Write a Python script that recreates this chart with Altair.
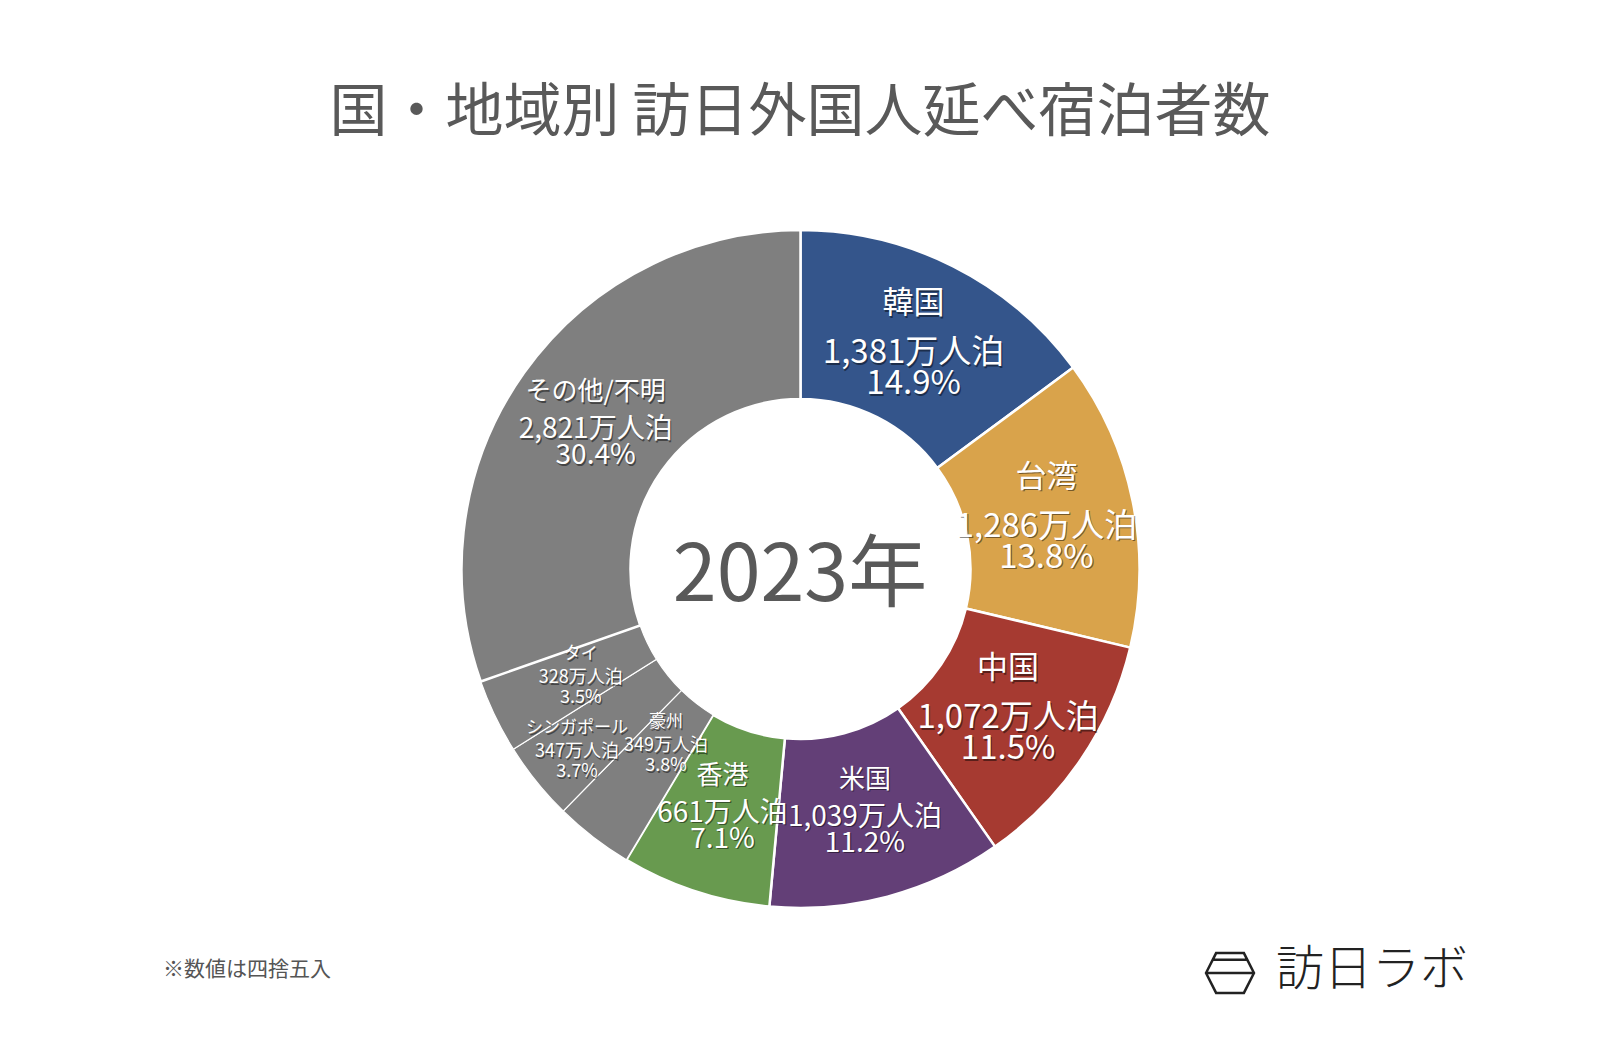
import altair as alt
import pandas as pd

# ---- data ----
categories = ["韓国", "台湾", "中国", "米国", "香港", "豪州", "シンガポール", "タイ", "その他/不明"]
stays_10k = [1381, 1286, 1072, 1039, 661, 349, 347, 328, 2821]  # 万人泊
pct_labels = ["14.9%", "13.8%", "11.5%", "11.2%", "7.1%", "3.8%", "3.7%", "3.5%", "30.4%"]
colors = ["#34558b", "#d9a34b", "#a63a31", "#633f77", "#689a4f",
          "#7f7f7f", "#7f7f7f", "#7f7f7f", "#7f7f7f"]
center_text = ["2023年"]
title_text = ["国・地域別 訪日外国人延べ宿泊者数"]
note_text = ["※数値は四捨五入"]
logo_text = ["訪日ラボ"]

# ---- styling / layout (code side) ----
FONT = "Noto Sans CJK JP"
CX, CY = 792.5, 561
R_IN, R_OUT = 170, 339
tier_of = {"韓国": "big", "台湾": "big", "中国": "big",
           "米国": "mid", "香港": "mid", "その他/不明": "mid",
           "豪州": "small", "シンガポール": "small", "タイ": "small"}
label_r = {"豪州": 220, "シンガポール": 287, "タイ": 244}
tiers = {
    # name size, value size, dy name, dy value, dy pct
    "big": (31, 33, -41, 8, 39),
    "mid": (26, 28, -32, 6, 32),
    "small": (17, 18, -21, 3, 23),
}

df = pd.DataFrame({
    "cat": categories,
    "stays": stays_10k,
    "idx": list(range(len(categories))),
    "vlabel": [f"{v:,}万人泊" for v in stays_10k],
    "plabel": pct_labels,
})
df["tier"] = df["cat"].map(tier_of)
df["lr"] = df["cat"].map(lambda c: label_r.get(c, 251))

base = alt.Chart(df)

arcs = base.mark_arc(innerRadius=R_IN, outerRadius=R_OUT, stroke="white").encode(
    theta=alt.Theta("stays:Q", stack=True),
    order=alt.Order("idx:Q"),
    color=alt.Color("cat:N", scale=alt.Scale(domain=categories, range=colors), legend=None),
    strokeWidth=alt.condition(
        alt.FieldOneOfPredicate(field="cat", oneOf=["豪州", "シンガポール", "タイ"]),
        alt.value(1.2), alt.value(2.5)),
    x=alt.value(CX), y=alt.value(CY),
)

# mid-angle of each slice (clockwise from 12 o'clock, radians), derived from the data
label_base = base.transform_joinaggregate(total="sum(stays)").transform_window(
    cum="sum(stays)", sort=[alt.SortField("idx", order="ascending")], frame=[None, 0]
).transform_calculate(ang="(datum.cum - datum.stays / 2) / datum.total * 2 * PI")

layers = [arcs]
for tier, (fs_name, fs_val, dy_n, dy_v, dy_p) in tiers.items():
    for field, fs, dy in (("cat", fs_name, dy_n), ("vlabel", fs_val, dy_v), ("plabel", fs_val, dy_p)):
        for shadow in (True, False):
            mk = dict(font=FONT, fontSize=fs, align="center", baseline="middle")
            if shadow:
                mk.update(color="#000000", opacity=0.45, dx=1.2, dy=dy + 1.6)
            else:
                mk.update(color="#ffffff", dy=dy)
            layers.append(
                label_base.transform_filter(f"datum.tier == '{tier}'").mark_text(**mk).encode(
                    theta=alt.Theta("ang:Q", scale=None, stack=False),
                    radius=alt.Radius("lr:Q", scale=None),
                    text=f"{field}:N",
                    x=alt.value(CX), y=alt.value(CY),
                )
            )

center = alt.Chart(pd.DataFrame({"t": center_text})).mark_text(
    font=FONT, fontSize=79, color="#595959", align="center", baseline="middle"
).encode(text="t:N", x=alt.value(792), y=alt.value(569))

title = alt.Chart(pd.DataFrame({"t": title_text})).mark_text(
    font=FONT, fontSize=58, color="#595959", align="center", baseline="middle"
).encode(text="t:N", x=alt.value(792), y=alt.value(106))

note = alt.Chart(pd.DataFrame({"t": note_text})).mark_text(
    font=FONT, fontSize=21, color="#555555", align="left", baseline="middle"
).encode(text="t:N", x=alt.value(155), y=alt.value(962))

logo_icon_path = ("M -1 0 L -0.58 -0.83 L 0.58 -0.83 L 1 0 L 0.58 0.83 L -0.58 0.83 Z "
                  "M -1 0 L 1 0 M -0.7 -0.55 L 0.7 -0.55")
logo_icon = alt.Chart(pd.DataFrame({"t": logo_text})).mark_point(
    shape=logo_icon_path, filled=False, size=2300, color="#222222", strokeWidth=2.5, opacity=1
).encode(x=alt.value(1222), y=alt.value(965))

logo = alt.Chart(pd.DataFrame({"t": logo_text})).mark_text(
    font=FONT, fontSize=48, fontWeight=300, color="#222222", align="left", baseline="middle",
).encode(text="t:N", x=alt.value(1268), y=alt.value(963))

chart = alt.layer(*layers, center, title, note, logo_icon, logo).properties(
    width=1584, height=1032, padding=0, autosize=alt.AutoSizeParams(type="none"),
    background="white",
).configure_view(stroke=None)

chart.save("out.html", embed_options={"renderer": "svg", "actions": False})
